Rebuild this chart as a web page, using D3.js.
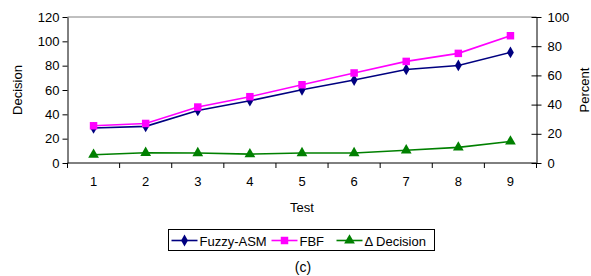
<!DOCTYPE html>
<html>
<head>
<meta charset="utf-8">
<script src="https://cdn.jsdelivr.net/npm/d3@7"></script>
<style>
body { margin: 0; background: #fff; }
text { font-family: "Liberation Sans", Arial, sans-serif; fill: #000; }
</style>
</head>
<body>
<svg></svg>
<script>
// data
var tests = [1, 2, 3, 4, 5, 6, 7, 8, 9]
var fuzzyASM = [28.8, 30.1, 43.2, 51.2, 60.2, 68.2, 76.9, 80.2, 90.9]
var fbf = [30.6, 32.5, 46, 54.5, 64.3, 74, 83.5, 90.1, 104.6]
var deltaDecision = [5.7, 7.0, 6.8, 6.1, 6.8, 6.8, 8.7, 10.7, 14.8]
var leftTicks = [0, 20, 40, 60, 80, 100, 120]
var rightTicks = [0, 20, 40, 60, 80, 100]

var screen = {width:591, height:276}
var margins = {left:67.5, right:54.5, top:17, bottom:113}
var graph = {
    width: screen.width - margins.left - margins.right,
    height: screen.height - margins.top - margins.bottom
}

var svg = d3.select("svg")
    .attr("width", screen.width)
    .attr("height", screen.height)

var xScale = d3.scaleBand()
    .domain(tests)
    .range([0, graph.width])

var yScale = d3.scaleLinear()
    .domain([0, 120])
    .range([graph.height, 0])

var y2Scale = d3.scaleLinear()
    .domain([0, 100])
    .range([graph.height, 0])

var target = svg.append("g")
    .attr("transform", "translate(" + margins.left + "," + margins.top + ")")

// plot area top border
target.append("line")
    .attr("x1", 0).attr("x2", graph.width)
    .attr("y1", 0).attr("y2", 0)
    .attr("stroke", "#808080")

// axes
var xAxis = d3.axisBottom(xScale).tickSize(0).tickPadding(14)
var gx = target.append("g")
    .attr("transform", "translate(0," + graph.height + ")")
    .call(xAxis)
gx.select(".domain").remove()
gx.append("line").attr("x1", 0).attr("x2", graph.width).attr("stroke", "#000")
// ticks between categories
gx.selectAll(".sep")
    .data(d3.range(tests.length + 1))
    .enter()
    .append("line")
    .attr("x1", function(i) { return i * xScale.bandwidth() })
    .attr("x2", function(i) { return i * xScale.bandwidth() })
    .attr("y1", 0).attr("y2", 5)
    .attr("stroke", "#000")

var gy = target.append("g")
    .call(d3.axisLeft(yScale).tickValues(leftTicks).tickSize(5).tickSizeOuter(0).tickPadding(3))
var gy2 = target.append("g")
    .attr("transform", "translate(" + graph.width + ",0)")
    .call(d3.axisRight(y2Scale).tickValues(rightTicks).tickSize(5).tickSizeOuter(0).tickPadding(6))
gy2.selectAll(".tick line").attr("x1", -5)

svg.selectAll(".tick text")
    .style("font-size", "13px")
    .style("font-family", "Liberation Sans, Arial, sans-serif")

var cx = function(d, i) { return xScale(tests[i]) + xScale.bandwidth() / 2 }

var series = [
    {name:"Fuzzy-ASM", values:fuzzyASM, color:"#000080", symbol:d3.symbolDiamond, size:40, scale:yScale},
    {name:"FBF", values:fbf, color:"#FF00FF", symbol:d3.symbolSquare, size:56, scale:yScale},
    {name:"\u0394 Decision", values:deltaDecision, color:"#008000", symbol:d3.symbolTriangle, size:50, scale:y2Scale}
]

series.forEach(function(s) {
    var line = d3.line()
        .x(cx)
        .y(function(d) { return s.scale(d) })
    target.append("path")
        .datum(s.values)
        .attr("d", line)
        .attr("fill", "none")
        .attr("stroke", s.color)
        .attr("stroke-width", 1.6)
    target.selectAll(null)
        .data(s.values)
        .enter()
        .append("path")
        .attr("d", d3.symbol().type(s.symbol).size(s.size))
        .attr("transform", function(d, i) {
            return "translate(" + cx(d, i) + "," + s.scale(d) + ")"
        })
        .attr("fill", s.color)
})

// labels
var labels = svg.append("g")
labels.append("text")
    .text("Test")
    .attr("text-anchor", "middle")
    .attr("x", margins.left + graph.width / 2)
    .attr("y", 212)
    .style("font-size", "13px")
labels.append("text")
    .text("Decision")
    .attr("text-anchor", "middle")
    .attr("transform", "translate(22," + (margins.top + graph.height / 2) + ") rotate(270)")
    .style("font-size", "13px")
labels.append("text")
    .text("Percent")
    .attr("text-anchor", "middle")
    .attr("transform", "translate(589," + (margins.top + graph.height / 2) + ") rotate(270)")
    .style("font-size", "13px")
labels.append("text")
    .text("(c)")
    .attr("text-anchor", "middle")
    .attr("x", 303)
    .attr("y", 272)
    .style("font-size", "14px")

// legend
var legend = svg.append("g")
    .attr("transform", "translate(168.5,229.5)")
legend.append("rect")
    .attr("width", 266)
    .attr("height", 21)
    .attr("fill", "#fff")
    .attr("stroke", "#000")
var legendX = [3, 103, 168]
var entries = legend.selectAll("g")
    .data(series)
    .enter()
    .append("g")
    .attr("transform", function(s, i) { return "translate(" + legendX[i] + ",11)" })
entries.append("line")
    .attr("x1", 0).attr("x2", 26)
    .attr("stroke", function(s) { return s.color })
    .attr("stroke-width", 1.6)
entries.append("path")
    .attr("d", function(s) { return d3.symbol().type(s.symbol).size(s.size)() })
    .attr("transform", "translate(13,0)")
    .attr("fill", function(s) { return s.color })
entries.append("text")
    .text(function(s) { return s.name })
    .attr("x", 28)
    .attr("y", 5)
    .style("font-size", "13px")
</script>
</body>
</html>
